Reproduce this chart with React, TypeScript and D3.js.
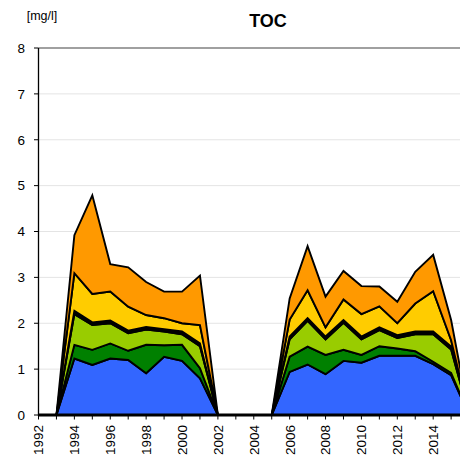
import React from "react";
import * as d3 from "d3";

const years = [1992,1993,1994,1995,1996,1997,1998,1999,2000,2001,2002,2003,2004,2005,2006,2007,2008,2009,2010,2011,2012,2013,2014,2015,2016];
const blue =   [0,0,1.23,1.09,1.23,1.20,0.91,1.27,1.18,0.80,0,0,0,0,0.94,1.10,0.89,1.18,1.14,1.29,1.29,1.29,1.11,0.87,0];
const dgreen = [0,0,0.30,0.33,0.33,0.20,0.62,0.25,0.35,0.22,0,0,0,0,0.33,0.39,0.42,0.24,0.17,0.21,0.16,0.10,0.05,0.05,0];
const lgreen = [0,0,0.67,0.54,0.44,0.38,0.33,0.30,0.23,0.48,0,0,0,0,0.38,0.56,0.34,0.59,0.34,0.35,0.23,0.37,0.60,0.51,0];
const black =  [0,0,0.07,0.06,0.06,0.06,0.06,0.05,0.06,0.06,0,0,0,0,0.06,0.06,0.06,0.06,0.06,0.06,0.06,0.06,0.06,0.06,0];
const yellow = [0,0,0.82,0.62,0.63,0.52,0.26,0.24,0.18,0.40,0,0,0,0,0.37,0.61,0.20,0.45,0.49,0.46,0.26,0.61,0.88,0.14,0];
const orange = [0,0,0.83,2.15,0.60,0.86,0.72,0.58,0.69,1.08,0,0,0,0,0.46,0.96,0.67,0.62,0.61,0.43,0.47,0.69,0.79,0.44,0];

const seriesKeys = ["blue","dgreen","lgreen","black","yellow","orange"];
const seriesColors = ["#3366FF","#008000","#99CC00","#000000","#FFCC00","#FF9900"];
const yTicks = [0,1,2,3,4,5,6,7,8];
const xLabelYears = [1992,1994,1996,1998,2000,2002,2004,2006,2008,2010,2012,2014];

const title = "TOC";
const unit = "[mg/l]";

export default function App() {
  const W = 460, H = 460;
  const left = 38.5, top = 48, bottom = 415;
  const x = d3.scaleLinear().domain([1992, 2016]).range([left, left + 24 * 17.94]);
  const y = d3.scaleLinear().domain([0, 8]).range([bottom, top]);

  const table = years.map((yr, i) => ({
    year: yr,
    blue: blue[i], dgreen: dgreen[i], lgreen: lgreen[i],
    black: black[i], yellow: yellow[i], orange: orange[i],
  }));
  const stacked = d3.stack<any>().keys(seriesKeys)(table);
  const area = d3.area<any>()
    .x((d) => x(d.data.year))
    .y0((d) => y(d[0]))
    .y1((d) => y(d[1]));

  const allYears = d3.range(1992, 2016);
  const font = "'Liberation Sans', Arial, sans-serif";

  return (
    <svg width={W} height={H} style={{ position: "absolute", left: 0, top: 0, background: "#fff" }} fontFamily={font}>
      <defs>
        <clipPath id="plotclip"><rect x={0} y={0} width={W} height={H} /></clipPath>
      </defs>
      {yTicks.filter((t) => t > 0 && t < 8).map((t) => (
        <line key={"g" + t} x1={left} x2={W} y1={y(t)} y2={y(t)} stroke="#e4e4e4" strokeWidth={1} />
      ))}
      <line x1={left} x2={W} y1={y(8)} y2={y(8)} stroke="#808080" strokeWidth={1.5} />
      <g clipPath="url(#plotclip)">
        {stacked.map((s, i) => (
          <path key={s.key} d={area(s) || ""} fill={seriesColors[i]} stroke="#000" strokeWidth={1.9} strokeLinejoin="miter" />
        ))}
      </g>
      <line x1={left} x2={W} y1={bottom} y2={bottom} stroke="#000" strokeWidth={3} />
      <line x1={left} x2={left} y1={top} y2={bottom + 1} stroke="#000" strokeWidth={1.3} />
      {yTicks.map((t) => (
        <g key={"y" + t}>
          <line x1={left - 4.5} x2={left} y1={y(t)} y2={y(t)} stroke="#000" strokeWidth={1} />
          <text x={25} y={y(t)} dy="0.36em" textAnchor="end" fontSize={13.5} fill="#000">{t}</text>
        </g>
      ))}
      {allYears.map((yr) => (
        <line key={"xt" + yr} x1={x(yr)} x2={x(yr)} y1={bottom} y2={bottom + 4.5} stroke="#000" strokeWidth={1} />
      ))}
      {xLabelYears.map((yr) => (
        <text key={"xl" + yr} transform={`translate(${x(yr)},${bottom + 10}) rotate(-90)`} dy="0.36em" textAnchor="end" fontSize={13.5} fill="#000">{yr}</text>
      ))}
      <text x={42} y={20} textAnchor="middle" fontSize={12.5} fill="#000">{unit}</text>
      <text x={268} y={27} textAnchor="middle" fontSize={18} fontWeight="bold" fill="#000">{title}</text>
    </svg>
  );
}
